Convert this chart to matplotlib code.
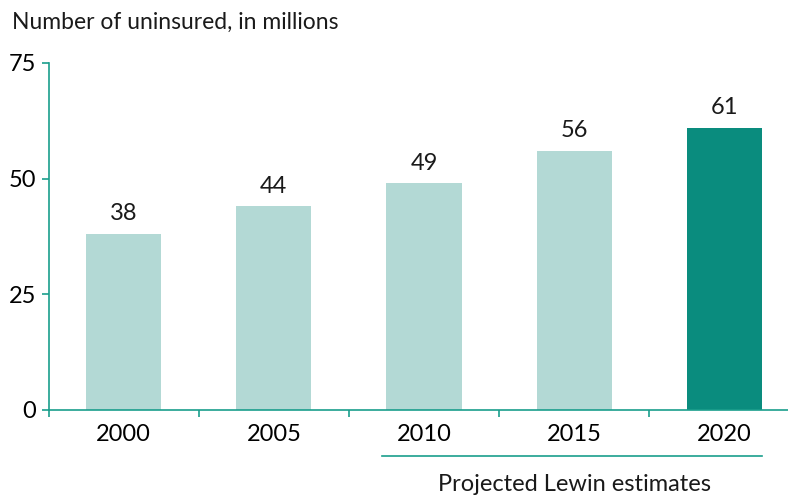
import numpy as np
import matplotlib
matplotlib.use("Agg")
import matplotlib.pyplot as plt
import matplotlib.transforms as mtransforms

plt.rcParams['font.family'] = ['Lato', 'DejaVu Sans']

years = ['2000', '2005', '2010', '2015', '2020']
uninsured = [38, 44, 49, 56, 61]
bar_colors = ['#b3d9d5', '#b3d9d5', '#b3d9d5', '#b3d9d5', '#0a8c7e']
y_ticks = [0, 25, 50, 75]
teal = '#1a9e8c'

fig = plt.figure(figsize=(7.88, 4.96), dpi=100)
ax = fig.add_axes([0.0618, 0.1734, 0.9382, 0.6996])

x = np.arange(len(years))
ax.bar(x, uninsured, width=0.5, color=bar_colors)
for xi, v in zip(x, uninsured):
    ax.annotate(str(v), (xi, v), xytext=(0, 7), textcoords='offset points',
                ha='center', va='bottom', fontsize=17, color='#1a1a1a')

ax.set_xlim(-0.5, 4.425)
ax.set_ylim(0, 75)
ax.set_yticks(y_ticks)
ax.set_yticklabels([str(t) for t in y_ticks], fontsize=17)
ax.set_xticks(x)
ax.set_xticklabels(years, fontsize=17)
ax.tick_params(axis='x', which='major', length=0, pad=10)
ax.set_xticks(np.arange(-0.5, 4.0, 1), minor=True)
ax.tick_params(axis='x', which='minor', length=5, color=teal, width=1.2)
ax.tick_params(axis='y', length=5, color=teal, width=1.2, pad=4)

for s in ['top', 'right']:
    ax.spines[s].set_visible(False)
for s in ['left', 'bottom']:
    ax.spines[s].set_color(teal)
    ax.spines[s].set_linewidth(1.2)

trans = mtransforms.blended_transform_factory(ax.transData, ax.transAxes)
ax.plot([1.72, 4.25], [-0.1326, -0.1326], color=teal, lw=1.2,
        transform=trans, clip_on=False)
ax.text(3.0, -0.216, 'Projected Lewin estimates', transform=trans,
        ha='center', va='center', fontsize=17, color='#1a1a1a')

fig.text(12 / 788, 1 - 22 / 496, 'Number of uninsured, in millions',
         ha='left', va='center', fontsize=16.5, color='#1a1a1a')

fig.savefig('out.png', dpi=100)
